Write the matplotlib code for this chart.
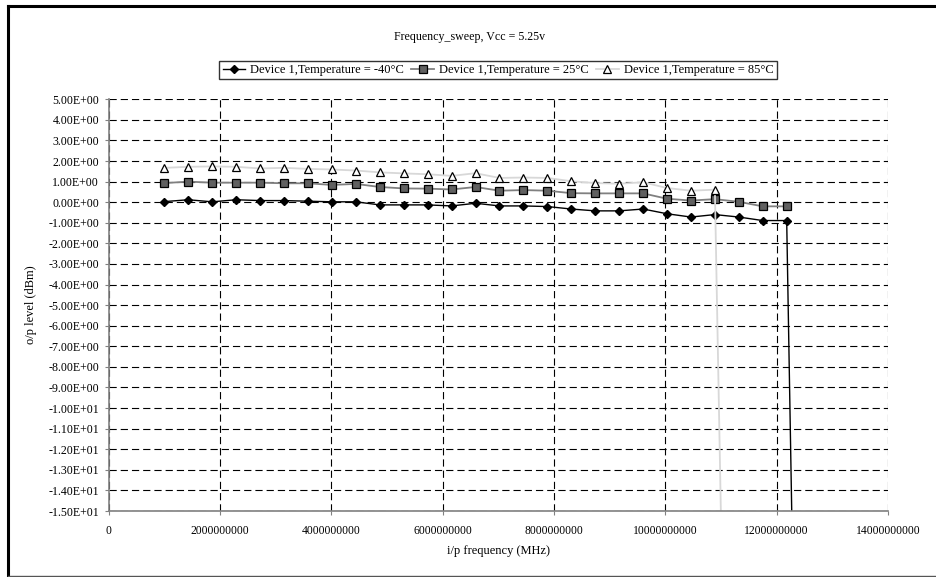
import matplotlib.pyplot as plt
from matplotlib.lines import Line2D
from matplotlib.ticker import FuncFormatter, MultipleLocator

plt.rcParams["font.family"] = ["Liberation Serif", "DejaVu Serif"]

# frequency points (GHz), last one is the off-scale drop point
freq_ghz = [1.00, 1.43, 1.86, 2.29, 2.72, 3.15, 3.58, 4.01, 4.44, 4.87,
            5.30, 5.73, 6.16, 6.59, 7.02, 7.45, 7.88, 8.31, 8.74, 9.17,
            9.60, 10.03, 10.46, 10.89, 11.32, 11.75, 12.18, 12.61]

t_m40 = [0.03, 0.12, 0.02, 0.12, 0.08, 0.08, 0.05, 0.02, 0.02, -0.13,
         -0.13, -0.13, -0.18, -0.05, -0.18, -0.18, -0.21, -0.33, -0.42, -0.42,
         -0.33, -0.56, -0.72, -0.60, -0.72, -0.89, -0.89, -68.0]
t_25 = [0.93, 1.00, 0.95, 0.95, 0.95, 0.92, 0.92, 0.84, 0.89, 0.74,
        0.67, 0.66, 0.62, 0.74, 0.56, 0.59, 0.56, 0.44, 0.43, 0.43,
        0.43, 0.17, 0.08, 0.15, 0.02, -0.20, -0.20]
t_85 = [1.67, 1.72, 1.74, 1.72, 1.64, 1.67, 1.62, 1.59, 1.54, 1.45,
        1.40, 1.36, 1.28, 1.41, 1.18, 1.20, 1.18, 1.02, 0.93, 0.90,
        0.97, 0.69, 0.56, 0.61, -62.0]

labels = ["Device 1,Temperature = -40°C",
          "Device 1,Temperature = 25°C",
          "Device 1,Temperature = 85°C"]

freq = [f * 1e9 for f in freq_ghz]

W, H = 936, 577
fig = plt.figure(figsize=(W / 100, H / 100), dpi=100)
ax = fig.add_axes([108.7 / W, 1 - 511 / H, (888 - 108.7) / W, (511 - 99.3) / H])

ax.plot(freq[:len(t_m40)], t_m40, color="black", lw=1.0, marker="D", ms=4.5,
        mfc="black", mec="black", label=labels[0])
ax.plot(freq[:len(t_25)], t_25, color="#808080", lw=1.3, marker="s", ms=5.5,
        mfc="#606060", mec="black", mew=0.9, label=labels[1])
ax.plot(freq[:len(t_85)], t_85, color="#d8d8d8", lw=1.3, marker="^", ms=5.5,
        mfc="white", mec="black", mew=0.9, label=labels[2])

ax.set_xlim(0, 14e9)
ax.set_ylim(-15, 5)
ax.xaxis.set_major_locator(MultipleLocator(2e9))
ax.yaxis.set_major_locator(MultipleLocator(1))
ax.xaxis.set_major_formatter(FuncFormatter(lambda v, p: f"{v:.0f}"))
ax.yaxis.set_major_formatter(FuncFormatter(lambda v, p: f"{v:.2E}"))

ax.grid(True, color="black", lw=0.8, linestyle=(0, (6.5, 3.6)))
ax.set_axisbelow(True)
for s in ["top", "right"]:
    ax.spines[s].set_visible(False)
for s in ["left", "bottom"]:
    ax.spines[s].set_color("#808080")
    ax.spines[s].set_linewidth(1.2)
ax.tick_params(axis="both", direction="out", length=3, width=0.8,
               color="#808080")
ax.tick_params(axis="y", pad=4, labelsize=8.6)
ax.tick_params(axis="x", pad=7, labelsize=8.4)

ax.set_xlabel("i/p frequency (MHz)", fontsize=9, labelpad=6)
ax.set_ylabel("o/p level (dBm)", fontsize=9, labelpad=8)

fig.text(470 / W, 1 - 37 / H, "Frequency_sweep, Vcc = 5.25v", fontsize=8.6,
         ha="center", va="center")

leg = ax.legend(loc="center", bbox_to_anchor=(498 / W, 1 - 70 / H),
                bbox_transform=fig.transFigure, ncol=3, fontsize=9,
                frameon=True, fancybox=False, edgecolor="black",
                handlelength=1.8, handletextpad=0.4, columnspacing=0.6,
                borderpad=0.25, borderaxespad=0)
leg.get_frame().set_linewidth(1.0)

# outer chart frame
fig.add_artist(Line2D([8 / W, 8 / W], [0.002, 1 - 6 / H], color="black",
                      lw=2.2, transform=fig.transFigure))
fig.add_artist(Line2D([8 / W, 1.0], [1 - 6 / H, 1 - 6 / H], color="black",
                      lw=2.2, transform=fig.transFigure))
fig.add_artist(Line2D([8 / W, 1.0], [0.002, 0.002], color="#555555",
                      lw=1.0, transform=fig.transFigure))

fig.savefig("out.png", dpi=100)
